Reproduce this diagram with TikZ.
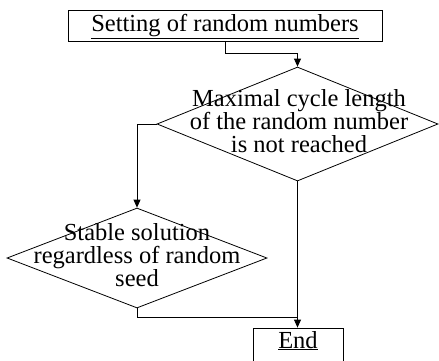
\documentclass[tikz,border=0pt]{standalone}
\usepackage{fontspec}
\setmainfont{Liberation Serif}
\usetikzlibrary{shapes.geometric,arrows.meta}

\begin{document}
\begin{tikzpicture}[x=1pt,y=-1pt,
  line width=0.8pt,
  every node/.style={font=\fontsize{24.5}{23}\selectfont},
  procbox/.style={draw, rectangle, inner sep=0pt},
  decision/.style={draw, diamond, inner sep=0pt},
  decisiontext/.style={align=center, inner sep=0pt},
  arr/.style={-{Triangle[length=8pt,width=7pt]}}
]
\useasboundingbox (0,0) rectangle (439,360);

% process boxes
\node[procbox, minimum width=314pt, minimum height=31pt,
      text height=17pt, text depth=5pt] (setting) at (225,25.5)
  {\underline{Setting of random numbers}};
\node[procbox, minimum width=90pt, minimum height=44pt] (endbox) at (298,350) {};
\node[anchor=base, inner sep=0pt] (endtext) at (298,348) {\underline{End}};

% decisions
\node[decision, minimum width=281pt, minimum height=114pt] (cycle) at (297.5,124) {};
\node[decisiontext] (cycletext) at (299,121.5) {Maximal cycle length\\of the random number\\is not reached};

\node[decision, minimum width=260pt, minimum height=100pt] (stable) at (137,258) {};
\node[decisiontext] (stabletext) at (137,255.5) {Stable solution\\regardless of random\\seed};

% connectors
\draw[arr] (setting.south) -- ++(0,12) -| (cycle.north);
\draw[arr] (cycle.west) -| (stable.north);
\draw[arr] (cycle.south) -- (cycle.south |- endbox.north);
\coordinate (join) at (cycle.south |- 0,317);
\draw (stable.south) |- (join);
\end{tikzpicture}
\end{document}
